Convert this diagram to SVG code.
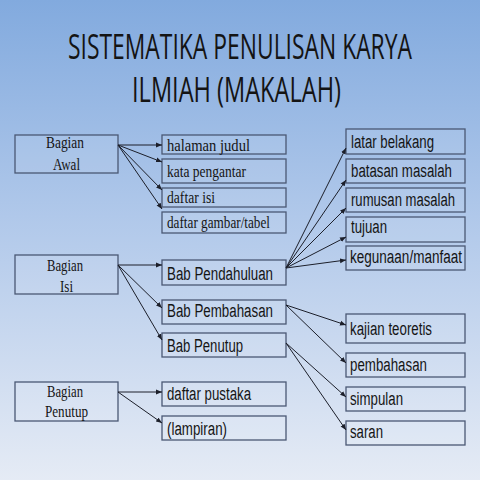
<svg xmlns="http://www.w3.org/2000/svg" width="480" height="480" viewBox="0 0 480 480">
<defs>
<linearGradient id="bg" x1="0" y1="0" x2="0" y2="1">
<stop offset="0" stop-color="#82aade"/>
<stop offset="0.45" stop-color="#b0c8ea"/>
<stop offset="1" stop-color="#e5ebf5"/>
</linearGradient>
<marker id="ah" viewBox="0 0 10 10" refX="10" refY="5" markerWidth="6" markerHeight="6" markerUnits="userSpaceOnUse" orient="auto">
<path d="M0,1 L10,5 L0,9 z" fill="#1c1f2a"/>
</marker>
<style>
.box{fill:#ffffff;fill-opacity:0.08;stroke:#4a5874;stroke-width:1.3}
.ser{font-family:"Liberation Serif","Times New Roman",serif;font-size:17px;fill:#151515}
.san{font-family:"Liberation Sans",Arial,sans-serif;font-size:18px;fill:#151515}
.ttl{font-family:"Open Sans","Liberation Sans",sans-serif;font-size:35px;fill:#141414}
.con line{stroke:#1c1f2a;stroke-width:1;marker-end:url(#ah)}
</style>
</defs>
<rect x="0" y="0" width="480" height="480" fill="url(#bg)"/>
<g id="title">
<text class="ttl" x="68" y="59" textLength="344" lengthAdjust="spacingAndGlyphs">SISTEMATIKA PENULISAN KARYA</text>
<text class="ttl" x="132" y="102" textLength="209" lengthAdjust="spacingAndGlyphs">ILMIAH (MAKALAH)</text>
</g>
<g id="bagian-awal"><rect class="box" x="15" y="135" width="103" height="38"/>
<text class="ser" x="46" y="148" textLength="38" lengthAdjust="spacingAndGlyphs">Bagian</text>
<text class="ser" x="53" y="170" textLength="27" lengthAdjust="spacingAndGlyphs">Awal</text></g>
<g id="halaman-judul"><rect class="box" x="162" y="135" width="124" height="19"/>
<text class="ser" x="167" y="151" textLength="83" lengthAdjust="spacingAndGlyphs">halaman judul</text></g>
<g id="kata-pengantar"><rect class="box" x="162" y="159" width="124" height="24"/>
<text class="ser" x="167" y="177" textLength="79" lengthAdjust="spacingAndGlyphs">kata pengantar</text></g>
<g id="daftar-isi"><rect class="box" x="162" y="188" width="124" height="19"/>
<text class="ser" x="167" y="203" textLength="48" lengthAdjust="spacingAndGlyphs">daftar isi</text></g>
<g id="daftar-gambar"><rect class="box" x="162" y="212" width="124" height="21"/>
<text class="ser" x="167" y="228" textLength="103" lengthAdjust="spacingAndGlyphs">daftar gambar/tabel</text></g>
<g id="bagian-isi"><rect class="box" x="15" y="255" width="103" height="39"/>
<text class="ser" x="47" y="271" textLength="36" lengthAdjust="spacingAndGlyphs">Bagian</text>
<text class="ser" x="60" y="292" textLength="13" lengthAdjust="spacingAndGlyphs">Isi</text></g>
<g id="bab-pendahuluan"><rect class="box" x="162" y="260" width="124" height="25"/>
<text class="san" x="167" y="280" textLength="106" lengthAdjust="spacingAndGlyphs">Bab Pendahuluan</text></g>
<g id="bab-pembahasan"><rect class="box" x="162" y="300" width="124" height="24"/>
<text class="san" x="167" y="317" textLength="106" lengthAdjust="spacingAndGlyphs">Bab Pembahasan</text></g>
<g id="bab-penutup"><rect class="box" x="162" y="333" width="124" height="24"/>
<text class="san" x="167" y="352" textLength="76" lengthAdjust="spacingAndGlyphs">Bab Penutup</text></g>
<g id="bagian-penutup"><rect class="box" x="15" y="382" width="103" height="39"/>
<text class="ser" x="47" y="397" textLength="36" lengthAdjust="spacingAndGlyphs">Bagian</text>
<text class="ser" x="45" y="417" textLength="43" lengthAdjust="spacingAndGlyphs">Penutup</text></g>
<g id="daftar-pustaka"><rect class="box" x="162" y="382" width="124" height="24"/>
<text class="san" x="167" y="400" textLength="84" lengthAdjust="spacingAndGlyphs">daftar pustaka</text></g>
<g id="lampiran"><rect class="box" x="162" y="416" width="124" height="24"/>
<text class="san" x="167" y="435" textLength="60" lengthAdjust="spacingAndGlyphs">(lampiran)</text></g>
<g id="latar-belakang"><rect class="box" x="346" y="129" width="119" height="25"/>
<text class="san" x="351" y="148" textLength="83" lengthAdjust="spacingAndGlyphs">latar belakang</text></g>
<g id="batasan-masalah"><rect class="box" x="346" y="159" width="119" height="24"/>
<text class="san" x="351" y="177" textLength="101" lengthAdjust="spacingAndGlyphs">batasan masalah</text></g>
<g id="rumusan-masalah"><rect class="box" x="346" y="188" width="119" height="24"/>
<text class="san" x="351" y="206" textLength="104" lengthAdjust="spacingAndGlyphs">rumusan masalah</text></g>
<g id="tujuan"><rect class="box" x="346" y="217" width="119" height="25"/>
<text class="san" x="351" y="233" textLength="36" lengthAdjust="spacingAndGlyphs">tujuan</text></g>
<g id="kegunaan"><rect class="box" x="346" y="246" width="119" height="24"/>
<text class="san" x="350" y="263" textLength="112" lengthAdjust="spacingAndGlyphs">kegunaan/manfaat</text></g>
<g id="kajian-teoretis"><rect class="box" x="346" y="314" width="119" height="29"/>
<text class="san" x="350" y="335" textLength="82" lengthAdjust="spacingAndGlyphs">kajian teoretis</text></g>
<g id="pembahasan"><rect class="box" x="346" y="353" width="119" height="24"/>
<text class="san" x="350" y="371" textLength="77" lengthAdjust="spacingAndGlyphs">pembahasan</text></g>
<g id="simpulan"><rect class="box" x="346" y="387" width="119" height="24"/>
<text class="san" x="350" y="405" textLength="53" lengthAdjust="spacingAndGlyphs">simpulan</text></g>
<g id="saran"><rect class="box" x="346" y="421" width="119" height="24"/>
<text class="san" x="350" y="438" textLength="33" lengthAdjust="spacingAndGlyphs">saran</text></g>
<g class="con" id="connectors">
<line x1="118" y1="145" x2="162" y2="145"/>
<line x1="118" y1="145" x2="162" y2="162"/>
<line x1="118" y1="145" x2="162" y2="190"/>
<line x1="118" y1="145" x2="162" y2="209"/>
<line x1="118" y1="265" x2="162" y2="265"/>
<line x1="118" y1="265" x2="162" y2="308"/>
<line x1="118" y1="265" x2="162" y2="340"/>
<line x1="118" y1="392" x2="162" y2="392"/>
<line x1="118" y1="392" x2="162" y2="423"/>
<line x1="286" y1="268" x2="346" y2="148"/>
<line x1="286" y1="268" x2="346" y2="180"/>
<line x1="286" y1="268" x2="346" y2="208"/>
<line x1="286" y1="268" x2="346" y2="237"/>
<line x1="286" y1="268" x2="346" y2="260"/>
<line x1="286" y1="305" x2="346" y2="325"/>
<line x1="286" y1="305" x2="346" y2="363"/>
<line x1="286" y1="343" x2="346" y2="397"/>
<line x1="286" y1="343" x2="346" y2="430"/>
</g>
</svg>
